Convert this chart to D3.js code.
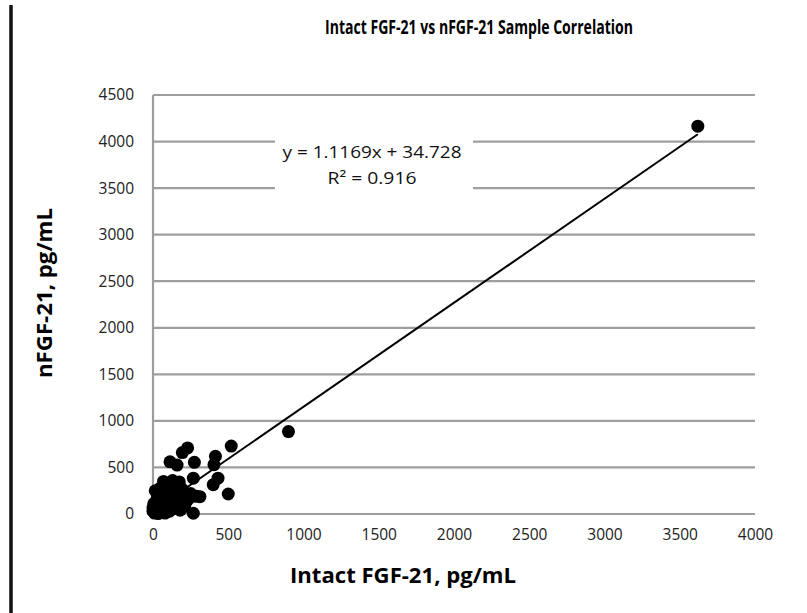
<!DOCTYPE html>
<html>
<head>
<meta charset="utf-8">
<script src="https://cdn.jsdelivr.net/npm/d3@7"></script>
<style>
	body { margin: 0; background: #fff; }
	text { font-family: "Open Sans", sans-serif; }
</style>
</head>
<body>
<div id="chart"></div>
<script>

/* data: intact FGF-21 (x) vs nFGF-21 (y), pg/mL */
var intact = [3620, 900, 520, 230, 195, 113, 160, 275, 415, 405, 268, 432, 400, 500, 268, 312,
	70, 130, 175, 50, 110, 195, 250, 290, 25, 90, 150, 240, 5, 70, 130, 200, 0, 45, 110, 180,
	20, 60, 100, 150, 30, 10, 80, 140, 210, 40, 120, 170, 0, 60, 90, 225, 35, 15];
var nfgf = [4165, 885, 730, 710, 660, 560, 525, 555, 620, 530, 385, 385, 315, 215, 8, 186,
	350, 360, 345, 280, 275, 265, 220, 190, 150, 165, 185, 170, 110, 80, 100, 120, 30, 25, 30, 40,
	60, 130, 220, 300, 200, 10, 10, 60, 80, 100, 140, 240, 70, 50, 120, 140, 5, 250];

var xTicks = [0, 500, 1000, 1500, 2000, 2500, 3000, 3500, 4000];
var yTicks = [0, 500, 1000, 1500, 2000, 2500, 3000, 3500, 4000, 4500];

var slope = 1.1169, intercept = 34.728;
var eqLines = ["y = 1.1169x + 34.728", "R² = 0.916"];

var width = 807, height = 613;
var margin = {top: 95, right: 52, bottom: 99, left: 153};

var svg = d3.select("#chart")
	.append("svg")
	.attr("width", width)
	.attr("height", height);

svg.append("rect")
	.attr("width", width)
	.attr("height", height)
	.attr("fill", "#fff");

/* black frame edge on the left of the figure */
svg.append("line")
	.attr("x1", 11).attr("x2", 11)
	.attr("y1", 5).attr("y2", height)
	.attr("stroke", "#111")
	.attr("stroke-width", 3.5);

var x = d3.scaleLinear().domain([0, 4000]).range([margin.left, width - margin.right]);
var y = d3.scaleLinear().domain([0, 4500]).range([height - margin.bottom, margin.top]);

/* gridlines */
svg.append("g")
	.selectAll("line")
	.data(yTicks)
	.enter()
	.append("line")
	.attr("x1", x(0))
	.attr("x2", x(4000))
	.attr("y1", function(d){ return y(d); })
	.attr("y2", function(d){ return y(d); })
	.attr("stroke", "#9e9e9e")
	.attr("stroke-width", 2.2);

/* left axis line */
svg.append("line")
	.attr("x1", x(0)).attr("x2", x(0))
	.attr("y1", y(0)).attr("y2", y(4500))
	.attr("stroke", "#9e9e9e")
	.attr("stroke-width", 2.2);

/* axes - only the labels, lines drawn above */
var xAxis = svg.append("g")
	.attr("transform", "translate(0," + y(0) + ")")
	.call(d3.axisBottom(x).tickValues(xTicks).tickSize(0).tickPadding(15).tickFormat(d3.format("d")));

var yAxis = svg.append("g")
	.attr("transform", "translate(" + x(0) + ",0)")
	.call(d3.axisLeft(y).tickValues(yTicks).tickSize(0).tickPadding(19).tickFormat(d3.format("d")));

[xAxis, yAxis].forEach(function(a){
	a.select(".domain").remove();
	a.selectAll("text")
		.style("font-family", "'Open Sans', sans-serif")
		.style("font-size", "15.5px")
		.attr("fill", "#222");
});

/* trendline over the data range */
var trend = d3.line()
	.x(function(d){ return x(d); })
	.y(function(d){ return y(slope * d + intercept); });

svg.append("path")
	.datum([d3.min(intact), d3.max(intact)])
	.attr("d", trend)
	.attr("fill", "none")
	.attr("stroke", "#000")
	.attr("stroke-width", 2);

/* points */
svg.append("g")
	.selectAll("circle")
	.data(d3.range(intact.length))
	.enter()
	.append("circle")
	.attr("cx", function(i){ return x(intact[i]); })
	.attr("cy", function(i){ return y(nfgf[i]); })
	.attr("r", 6.5)
	.attr("fill", "#000");

/* equation box */
svg.append("rect")
	.attr("x", 275)
	.attr("y", 133)
	.attr("width", 198)
	.attr("height", 58)
	.attr("fill", "#fff");

var eqWidths = [179, 89];
svg.append("g")
	.selectAll("text")
	.data(eqLines)
	.enter()
	.append("text")
	.attr("x", 372)
	.attr("y", function(d, i){ return 158 + i * 26; })
	.attr("text-anchor", "middle")
	.attr("textLength", function(d, i){ return eqWidths[i]; })
	.attr("lengthAdjust", "spacingAndGlyphs")
	.style("font-size", "17px")
	.attr("fill", "#111")
	.text(function(d){ return d; });

/* titles */
svg.append("text")
	.attr("x", 479)
	.attr("y", 34)
	.attr("text-anchor", "middle")
	.attr("textLength", 308)
	.attr("lengthAdjust", "spacingAndGlyphs")
	.style("font-size", "20px")
	.style("font-weight", "bold")
	.text("Intact FGF-21 vs nFGF-21 Sample Correlation");

svg.append("text")
	.attr("x", 403)
	.attr("y", 583)
	.attr("text-anchor", "middle")
	.attr("textLength", 226)
	.attr("lengthAdjust", "spacingAndGlyphs")
	.style("font-size", "21px")
	.style("font-weight", "bold")
	.text("Intact FGF-21, pg/mL");

svg.append("text")
	.attr("transform", "translate(52,293) rotate(-90)")
	.attr("text-anchor", "middle")
	.attr("textLength", 170)
	.attr("lengthAdjust", "spacingAndGlyphs")
	.style("font-size", "21px")
	.style("font-weight", "bold")
	.text("nFGF-21, pg/mL");

</script>
</body>
</html>
